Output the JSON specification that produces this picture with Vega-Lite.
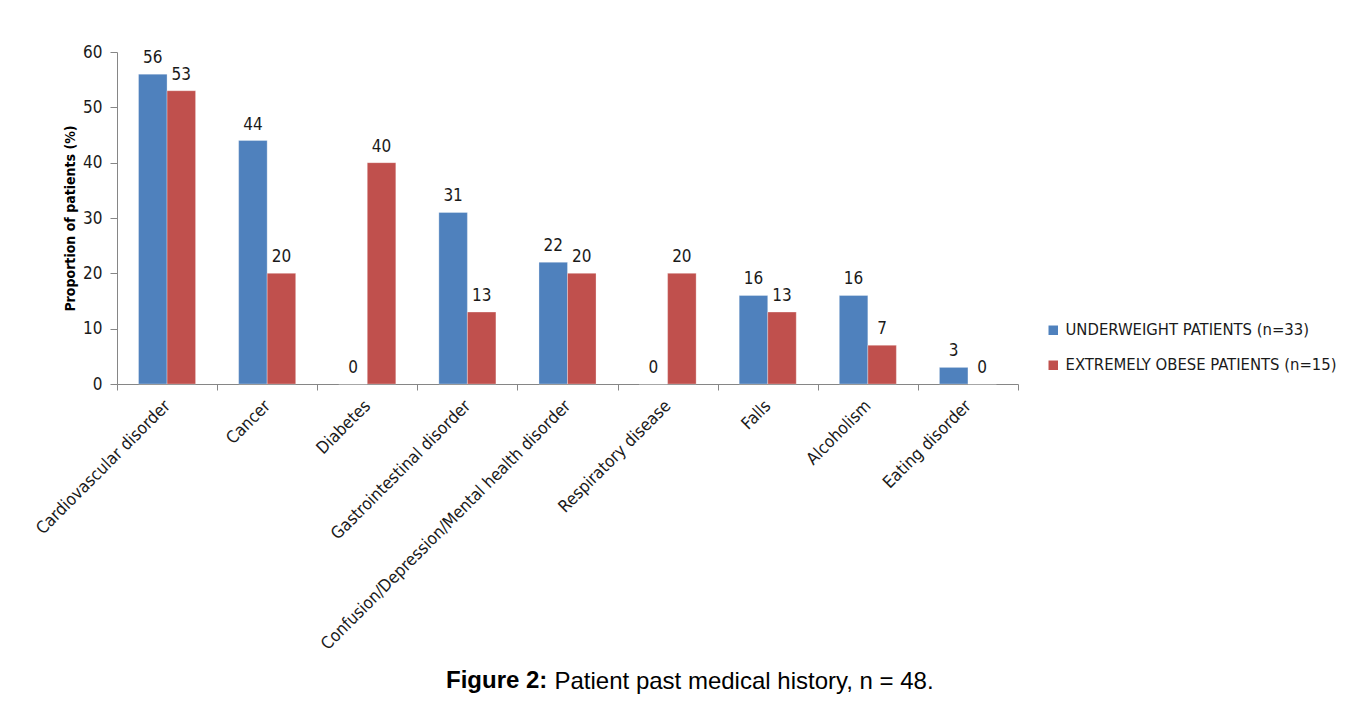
{
  "$schema": "https://vega.github.io/schema/vega-lite/v6.json",
  "width": 901,
  "height": 332,
  "autosize": {"type": "none"},
  "padding": {"left": 117, "top": 52, "right": 340, "bottom": 317},
  "background": "white",
  "title": {
    "text": "Figure 2:",
    "orient": "top",
    "anchor": "start",
    "frame": "group",
    "font": "Liberation Sans",
    "fontSize": 24,
    "fontWeight": "bold",
    "color": "#000000",
    "baseline": "alphabetic",
    "dx": 329,
    "dy": 673
  },
  "data": {
    "values": [
      {"condition": "Cardiovascular disorder", "group": "UNDERWEIGHT PATIENTS (n=33)", "pct": 56},
      {"condition": "Cardiovascular disorder", "group": "EXTREMELY OBESE PATIENTS (n=15)", "pct": 53},
      {"condition": "Cancer", "group": "UNDERWEIGHT PATIENTS (n=33)", "pct": 44},
      {"condition": "Cancer", "group": "EXTREMELY OBESE PATIENTS (n=15)", "pct": 20},
      {"condition": "Diabetes", "group": "UNDERWEIGHT PATIENTS (n=33)", "pct": 0},
      {"condition": "Diabetes", "group": "EXTREMELY OBESE PATIENTS (n=15)", "pct": 40},
      {"condition": "Gastrointestinal disorder", "group": "UNDERWEIGHT PATIENTS (n=33)", "pct": 31},
      {"condition": "Gastrointestinal disorder", "group": "EXTREMELY OBESE PATIENTS (n=15)", "pct": 13},
      {"condition": "Confusion/Depression/Mental health disorder", "group": "UNDERWEIGHT PATIENTS (n=33)", "pct": 22},
      {"condition": "Confusion/Depression/Mental health disorder", "group": "EXTREMELY OBESE PATIENTS (n=15)", "pct": 20},
      {"condition": "Respiratory disease", "group": "UNDERWEIGHT PATIENTS (n=33)", "pct": 0},
      {"condition": "Respiratory disease", "group": "EXTREMELY OBESE PATIENTS (n=15)", "pct": 20},
      {"condition": "Falls", "group": "UNDERWEIGHT PATIENTS (n=33)", "pct": 16},
      {"condition": "Falls", "group": "EXTREMELY OBESE PATIENTS (n=15)", "pct": 13},
      {"condition": "Alcoholism", "group": "UNDERWEIGHT PATIENTS (n=33)", "pct": 16},
      {"condition": "Alcoholism", "group": "EXTREMELY OBESE PATIENTS (n=15)", "pct": 7},
      {"condition": "Eating disorder", "group": "UNDERWEIGHT PATIENTS (n=33)", "pct": 3},
      {"condition": "Eating disorder", "group": "EXTREMELY OBESE PATIENTS (n=15)", "pct": 0}
    ]
  },
  "encoding": {
    "x": {
      "field": "condition",
      "type": "nominal",
      "sort": null,
      "scale": {"paddingInner": 0, "paddingOuter": 0},
      "axis": {
        "title": "Patient past medical history, n = 48.",
        "titleFont": "Liberation Sans",
        "titleFontSize": 24,
        "titleFontWeight": "normal",
        "titleColor": "#000000",
        "titleAlign": "left",
        "titleAnchor": "start",
        "titleBaseline": "alphabetic",
        "titleX": 437,
        "titleY": 304,
        "labelAngle": -45,
        "labelAlign": "right",
        "labelBaseline": "middle",
        "labelFont": "DejaVu Sans Condensed",
        "labelFontSize": 17,
        "labelColor": "#1a1a1a",
        "labelPadding": 13,
        "labelOverlap": false,
        "labelLimit": 0,
        "tickBand": "extent",
        "tickSize": 6,
        "tickColor": "#868686",
        "domainColor": "#868686",
        "grid": false
      }
    },
    "xOffset": {
      "field": "group",
      "type": "nominal",
      "sort": ["UNDERWEIGHT PATIENTS (n=33)", "EXTREMELY OBESE PATIENTS (n=15)"],
      "scale": {"paddingInner": 0, "paddingOuter": 0.755}
    },
    "y": {
      "field": "pct",
      "type": "quantitative",
      "scale": {"domain": [0, 60], "nice": false},
      "axis": {
        "title": "Proportion of patients (%)",
        "titleFont": "DejaVu Sans Condensed",
        "titleFontSize": 14,
        "titleFontWeight": "bold",
        "titleColor": "#000000",
        "titlePadding": 5,
        "values": [0, 10, 20, 30, 40, 50, 60],
        "labelFont": "DejaVu Sans Condensed",
        "labelFontSize": 17,
        "labelColor": "#1a1a1a",
        "labelPadding": 8,
        "tickSize": 7,
        "tickColor": "#868686",
        "domainColor": "#868686",
        "grid": false
      }
    }
  },
  "layer": [
    {
      "mark": {"type": "bar", "stroke": "#ffffff", "strokeWidth": 0.5, "strokeOpacity": 0.6},
      "encoding": {
        "color": {
          "field": "group",
          "type": "nominal",
          "sort": ["UNDERWEIGHT PATIENTS (n=33)", "EXTREMELY OBESE PATIENTS (n=15)"],
          "scale": {"domain": ["UNDERWEIGHT PATIENTS (n=33)", "EXTREMELY OBESE PATIENTS (n=15)"], "range": ["#4F81BD", "#C0504D"]},
          "legend": {
            "title": null,
            "orient": "none",
            "legendX": 928,
            "legendY": 270,
            "symbolType": "square",
            "symbolSize": 90,
            "symbolStrokeWidth": 0,
            "labelFont": "DejaVu Sans Condensed",
            "labelFontSize": 16.5,
            "labelColor": "#1a1a1a",
            "labelOffset": 4,
            "rowPadding": 18,
            "labelLimit": 0
          }
        }
      }
    },
    {
      "mark": {"type": "text", "baseline": "alphabetic", "dy": -11, "font": "DejaVu Sans Condensed", "fontSize": 17, "color": "#1a1a1a"},
      "encoding": {
        "text": {"field": "pct", "type": "quantitative"}
      }
    }
  ],
  "config": {"view": {"stroke": null}}
}
